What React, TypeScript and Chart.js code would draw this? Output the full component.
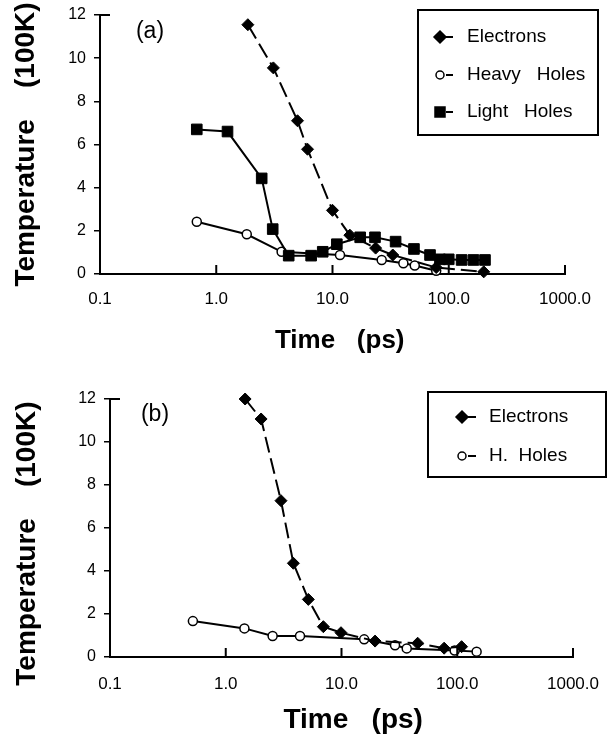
import React, { useEffect, useRef } from 'react';
import { Chart, registerables } from 'chart.js';

Chart.register(...registerables);

const FONT = '"Liberation Sans", Arial, Helvetica, sans-serif';

// Axis ticks
const xTickValues = [0.1, 1, 10, 100, 1000];
const xTickLabels = ['0.1', '1.0', '10.0', '100.0', '1000.0'];
const yTickValues = [0, 2, 4, 6, 8, 10, 12];

// Axis titles (extra blanks only nudge the centred text)
const xTitleA = '  Time   (ps)';
const xTitleB = '   Time   (ps)';
const yTitleA = 'Temperature    (100K)';
const yTitleB = 'Temperature    (100K)    ';

// Panel (a)
const aElectronsTime = [1.87, 3.1, 5.0, 6.1, 10.0, 14.1, 23.5, 33, 78, 200];
const aElectronsTemp = [11.55, 9.55, 7.1, 5.78, 2.95, 1.8, 1.2, 0.88, 0.3, 0.1];
const aHeavyTime = [0.68, 1.83, 3.65, 11.6, 26.5, 40.7, 51, 78];
const aHeavyTemp = [2.42, 1.84, 1.03, 0.88, 0.65, 0.5, 0.39, 0.15];
const aLightTime = [0.68, 1.25, 2.46, 3.06, 4.2, 6.55, 8.24, 10.9, 17.3, 23.2, 34.9, 50.2, 69, 84, 100, 129, 163, 205];
const aLightTemp = [6.7, 6.6, 4.43, 2.08, 0.85, 0.85, 1.03, 1.38, 1.7, 1.7, 1.5, 1.16, 0.88, 0.68, 0.68, 0.65, 0.65, 0.65];

// Panel (b)
const bElectronsTime = [1.47, 2.02, 3.0, 3.84, 5.17, 6.97, 9.9, 19.5, 45.5, 77, 109];
const bElectronsTemp = [12.0, 11.07, 7.27, 4.36, 2.68, 1.41, 1.13, 0.74, 0.64, 0.41, 0.48];
const bHeavyTime = [0.52, 1.45, 2.54, 4.38, 15.7, 29, 36.6, 95, 147];
const bHeavyTemp = [1.67, 1.33, 0.98, 0.98, 0.82, 0.55, 0.4, 0.3, 0.25];

function pts(t: number[], v: number[]) {
  return t.map((x, i) => ({ x, y: v[i] }));
}

function drawMarker(ctx: CanvasRenderingContext2D, style: string, x: number, y: number, fill: string) {
  ctx.beginPath();
  if (style === 'rectRot') {
    const r = 6;
    ctx.moveTo(x, y - r);
    ctx.lineTo(x + r, y);
    ctx.lineTo(x, y + r);
    ctx.lineTo(x - r, y);
    ctx.closePath();
  } else if (style === 'rect') {
    const s = 5;
    ctx.rect(x - s, y - s, 2 * s, 2 * s);
  } else {
    ctx.arc(x, y, 4, 0, Math.PI * 2);
  }
  ctx.fillStyle = fill;
  ctx.fill();
  ctx.lineWidth = 1.5;
  ctx.strokeStyle = '#000';
  ctx.stroke();
}

const boxLegendPlugin = {
  id: 'boxLegend',
  afterDraw(chart: any, _args: any, opts: any) {
    if (!opts || !opts.box) return;
    const ctx: CanvasRenderingContext2D = chart.ctx;
    ctx.save();
    const b = opts.box;
    ctx.lineWidth = 2;
    ctx.strokeStyle = '#000';
    ctx.strokeRect(b.x, b.y, b.w, b.h);
    chart.data.datasets.forEach((ds: any, i: number) => {
      const y = opts.rowY[i];
      drawMarker(ctx, ds.pointStyle, opts.markerX, y, ds.pointBackgroundColor);
      ctx.beginPath();
      ctx.moveTo(opts.dash[0], y);
      ctx.lineTo(opts.dash[1], y);
      ctx.lineWidth = 2;
      ctx.strokeStyle = '#000';
      ctx.stroke();
      ctx.fillStyle = '#000';
      ctx.font = `19px ${FONT}`;
      ctx.textBaseline = 'middle';
      ctx.textAlign = 'left';
      ctx.fillText(ds.label, opts.textX, y);
    });
    ctx.restore();
  },
};

const panelLabelPlugin = {
  id: 'panelLabel',
  afterDraw(chart: any, _args: any, opts: any) {
    if (!opts || !opts.text) return;
    const ctx: CanvasRenderingContext2D = chart.ctx;
    ctx.save();
    ctx.fillStyle = '#000';
    ctx.font = `23px ${FONT}`;
    ctx.textAlign = 'center';
    ctx.textBaseline = 'middle';
    ctx.fillText(opts.text, opts.x, opts.y);
    ctx.restore();
  },
};

const inwardTicksPlugin = {
  id: 'inwardTicks',
  afterDraw(chart: any) {
    const xs = chart.scales.x;
    const ctx: CanvasRenderingContext2D = chart.ctx;
    const { bottom, top, left } = chart.chartArea;
    ctx.save();
    ctx.strokeStyle = '#000';
    ctx.lineWidth = 2;
    xs.ticks.forEach((t: any) => {
      if (t.value <= xs.min) return;
      const px = xs.getPixelForValue(t.value);
      ctx.beginPath();
      ctx.moveTo(px, bottom);
      ctx.lineTo(px, bottom - 9);
      ctx.stroke();
    });
    // small inward cap at the top of the y axis
    ctx.beginPath();
    ctx.moveTo(left, top);
    ctx.lineTo(left + 10, top);
    ctx.stroke();
    ctx.restore();
  },
};

function dataset(label: string, data: any[], style: string, fill: string, radius: number, dash: number[], order: number) {
  return {
    label,
    data,
    showLine: true,
    borderColor: '#000',
    borderWidth: 2,
    borderDash: dash,
    pointStyle: style,
    pointRadius: radius,
    pointBackgroundColor: fill,
    pointBorderColor: '#000',
    pointBorderWidth: style === 'circle' ? 1.5 : 1,
    tension: 0,
    clip: false,
    order,
  };
}

function makeConfig(p: any) {
  return {
    type: 'scatter',
    data: { datasets: p.datasets },
    plugins: [boxLegendPlugin, panelLabelPlugin, inwardTicksPlugin],
    options: {
      responsive: false,
      animation: false,
      devicePixelRatio: 1,
      layout: { padding: { top: p.padTop, right: p.padRight, left: 0, bottom: 0 } },
      plugins: {
        legend: { display: false },
        tooltip: { enabled: false },
        boxLegend: p.legend,
        panelLabel: p.label,
      },
      scales: {
        x: {
          type: 'logarithmic',
          min: 0.1,
          max: 1000,
          afterBuildTicks: (s: any) => {
            s.ticks = xTickValues.map((v) => ({ value: v }));
          },
          afterFit: (s: any) => {
            s.height = p.xHeight;
            s.paddingLeft = 0;
            s.paddingRight = 0;
          },
          ticks: {
            autoSkip: false,
            maxRotation: 0,
            color: '#000',
            padding: p.xTickPad,
            font: { size: 17, family: FONT },
            callback: (_v: any, i: number) => xTickLabels[i],
          },
          grid: { display: false, drawTicks: false, tickLength: 0 },
          border: { display: true, color: '#000', width: 2 },
          title: {
            display: true,
            text: p.xTitle,
            color: '#000',
            font: { size: p.xTitleSize, weight: 'bold', family: FONT, lineHeight: 1 },
            padding: { top: 0, bottom: p.xTitlePad },
          },
        },
        y: {
          min: 0,
          max: 12,
          afterBuildTicks: (s: any) => {
            s.ticks = yTickValues.map((v) => ({ value: v }));
          },
          afterFit: (s: any) => {
            s.width = p.yWidth;
            s.paddingTop = 0;
            s.paddingBottom = 0;
          },
          ticks: { color: '#000', padding: 8, font: { size: 16, family: FONT } },
          grid: { drawOnChartArea: false, drawTicks: true, tickLength: 6, color: '#000', lineWidth: 1.5 },
          border: { display: true, color: '#000', width: 2 },
          title: {
            display: true,
            text: p.yTitle,
            color: '#000',
            font: { size: 28, weight: 'bold', family: FONT, lineHeight: 1 },
            padding: { top: p.yTitlePad, bottom: 0 },
          },
        },
      },
    },
  };
}

const panelA = {
  datasets: [
    dataset('Electrons', pts(aElectronsTime, aElectronsTemp), 'rectRot', '#000', 6, [16, 6], 1),
    dataset('Heavy   Holes', pts(aHeavyTime, aHeavyTemp), 'circle', '#fff', 4.5, [], 2),
    dataset('Light   Holes', pts(aLightTime, aLightTemp), 'rect', '#000', 7.5, [], 0),
  ],
  padTop: 15,
  padRight: 42,
  yWidth: 100,
  xHeight: 86,
  xTickPad: 15,
  xTitle: xTitleA,
  xTitleSize: 26,
  xTitlePad: 6.5,
  yTitle: yTitleA,
  yTitlePad: 12,
  legend: { box: { x: 418, y: 10, w: 180, h: 125 }, rowY: [37, 75, 112], markerX: 440, dash: [446, 453], textX: 467 },
  label: { text: '(a)', x: 150, y: 32 },
};

const panelB = {
  datasets: [
    dataset('Electrons', pts(bElectronsTime, bElectronsTemp), 'rectRot', '#000', 6, [16, 6], 0),
    dataset('H.  Holes', pts(bHeavyTime, bHeavyTemp), 'circle', '#fff', 4.5, [], 1),
  ],
  padTop: 39,
  padRight: 34,
  yWidth: 110,
  xHeight: 77,
  xTickPad: 17,
  xTitle: xTitleB,
  xTitleSize: 28,
  xTitlePad: 0,
  yTitle: yTitleB,
  yTitlePad: 13,
  legend: { box: { x: 428, y: 32, w: 178, h: 85 }, rowY: [57, 96], markerX: 462, dash: [468, 476], textX: 489 },
  label: { text: '(b)', x: 155, y: 55 },
};

function ChartCanvas({ panel, width, height }: { panel: any; width: number; height: number }) {
  const ref = useRef<HTMLCanvasElement>(null);
  useEffect(() => {
    if (!ref.current) return;
    const chart = new Chart(ref.current, makeConfig(panel) as any);
    return () => chart.destroy();
  }, [panel]);
  return <canvas ref={ref} width={width} height={height} style={{ display: 'block', width, height }} />;
}

export default function App() {
  return (
    <div style={{ position: 'fixed', left: 0, top: 0, width: 607, height: 734, background: '#fff' }}>
      <div style={{ position: 'absolute', left: 0, top: 0 }}>
        <ChartCanvas panel={panelA} width={607} height={360} />
      </div>
      <div style={{ position: 'absolute', left: 0, top: 360 }}>
        <ChartCanvas panel={panelB} width={607} height={374} />
      </div>
    </div>
  );
}
